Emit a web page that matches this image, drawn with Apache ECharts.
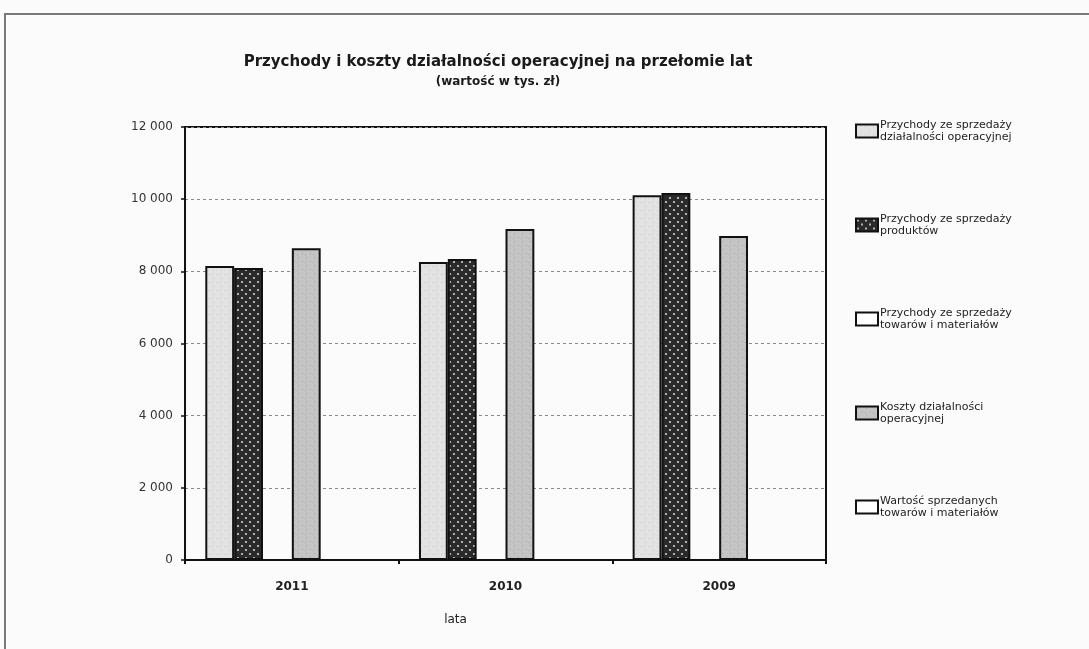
<!DOCTYPE html>
<html>
<head>
<meta charset="utf-8">
<script src="https://cdn.jsdelivr.net/npm/echarts@6/dist/echarts.min.js"></script>
<style>
  html, body { margin: 0; padding: 0; background: #fbfbfb; }
  #chart { width: 1089px; height: 649px; }
</style>
</head>
<body>
<div id="chart"></div>
<script>
// Years on the category axis
var years = ['2011', '2010', '2009'];

// Values in thousands of PLN
var przychodyOperacyjne = [8150, 8260, 10110];
var przychodyProdukty   = [8090, 8340, 10170];
var przychodyTowary     = [0, 0, 0];
var kosztyOperacyjne    = [8640, 9170, 8980];
var wartoscTowarow      = [0, 0, 0];
var pozostale           = [0, 0, 0];

// Series names and their two-line legend captions
var seriesNames = [
  'Przychody ze sprzedaży działalności operacyjnej',
  'Przychody ze sprzedaży produktów',
  'Przychody ze sprzedaży towarów i materiałów',
  'Koszty działalności operacyjnej',
  'Wartość sprzedanych towarów i materiałów'
];
var legendCaptions = [
  'Przychody ze sprzedaży\ndziałalności operacyjnej',
  'Przychody ze sprzedaży\nproduktów',
  'Przychody ze sprzedaży\ntowarów i materiałów',
  'Koszty działalności\noperacyjnej',
  'Wartość sprzedanych\ntowarów i materiałów'
];

// Small repeating fills imitating stippled print patterns
function pattern(bg, dot, dots, size) {
  var c = document.createElement('canvas');
  c.width = size; c.height = size;
  var g = c.getContext('2d');
  g.fillStyle = bg; g.fillRect(0, 0, size, size);
  g.fillStyle = dot;
  dots.forEach(function (d) { g.fillRect(d[0], d[1], d[2] || 1, d[2] || 1); });
  return { image: c, repeat: 'repeat' };
}
var fillLight = pattern('#e2e2e2', '#cacaca', [[1, 2], [5, 6], [4, 1]], 8);
var fillDark  = pattern('#2a2a2a', '#b0b0b0', [[1, 1, 2], [5, 5, 2]], 8);
var fillGrey  = pattern('#c4c4c4', '#a8a8a8', [[2, 1], [6, 5], [1, 6]], 8);

function barSeries(name, data, fill) {
  return {
    name: name,
    type: 'bar',
    data: data,
    barGap: '0%',
    barCategoryGap: '19%',
    itemStyle: { color: fill, borderColor: '#111', borderWidth: 2 },
    emphasis: { disabled: true }
  };
}

var chart = echarts.init(document.getElementById('chart'), null, { renderer: 'canvas' });

chart.setOption({
  backgroundColor: '#fbfbfb',
  animation: false,
  graphic: [
    {
      type: 'rect',
      shape: { x: 5, y: 14, width: 1200, height: 700 },
      style: { fill: 'none', stroke: '#7a7a7a', lineWidth: 2 },
      silent: true
    },
    {
      type: 'text',
      x: 498, y: 62,
      style: {
        text: 'Przychody i koszty działalności operacyjnej na przełomie lat',
        font: 'bold 15px "DejaVu Sans"',
        fill: '#1a1a1a',
        textAlign: 'center',
        textVerticalAlign: 'middle'
      }
    },
    {
      type: 'text',
      x: 498, y: 82,
      style: {
        text: '(wartość w tys. zł)',
        font: 'bold 12px "DejaVu Sans"',
        fill: '#1a1a1a',
        textAlign: 'center',
        textVerticalAlign: 'middle'
      }
    }
  ],
  legend: {
    orient: 'vertical',
    left: 855,
    top: 113,
    padding: 0,
    icon: 'rect',
    itemWidth: 22,
    itemHeight: 13,
    itemGap: 58,
    data: seriesNames,
    formatter: function (name) {
      return legendCaptions[seriesNames.indexOf(name)];
    },
    textStyle: {
      fontFamily: '"DejaVu Sans"',
      fontSize: 11,
      color: '#222',
      lineHeight: 12,
      padding: [12, 0, 0, -3]
    },
    itemStyle: { borderColor: '#111', borderWidth: 2 },
    selectedMode: false
  },
  grid: {
    left: 185,
    top: 127,
    right: 263,
    bottom: 89,
    show: true,
    borderColor: '#111',
    borderWidth: 2,
    backgroundColor: 'transparent'
  },
  xAxis: {
    type: 'category',
    data: years,
    name: 'lata',
    nameLocation: 'middle',
    nameGap: 54,
    nameTextStyle: {
      fontFamily: '"DejaVu Sans"',
      fontSize: 12,
      color: '#222',
      padding: [0, 100, 0, 0]
    },
    axisLine: { lineStyle: { color: '#111', width: 2 } },
    axisTick: { show: true, length: 4, lineStyle: { color: '#111', width: 2 } },
    axisLabel: {
      margin: 21,
      fontFamily: '"DejaVu Sans"',
      fontWeight: 'bold',
      fontSize: 12,
      color: '#222'
    }
  },
  yAxis: {
    type: 'value',
    min: 0,
    max: 12000,
    interval: 2000,
    axisLine: { show: true, lineStyle: { color: '#111', width: 2 } },
    axisTick: { show: true, length: 4, lineStyle: { color: '#111', width: 1.5 } },
    axisLabel: {
      margin: 12,
      fontFamily: '"DejaVu Sans"',
      fontSize: 12,
      color: '#333',
      formatter: function (v) {
        return String(v).replace(/\B(?=(\d{3})+(?!\d))/g, ' ');
      }
    },
    splitLine: {
      show: true,
      lineStyle: { color: '#8a8a8a', type: [3, 3], width: 1 }
    }
  },
  series: [
    barSeries(seriesNames[0], przychodyOperacyjne, fillLight),
    barSeries(seriesNames[1], przychodyProdukty, fillDark),
    barSeries(seriesNames[2], przychodyTowary, '#ffffff'),
    barSeries(seriesNames[3], kosztyOperacyjne, fillGrey),
    barSeries(seriesNames[4], wartoscTowarow, '#ffffff'),
    barSeries('Pozostałe', pozostale, '#ffffff')
  ]
});
</script>
</body>
</html>
